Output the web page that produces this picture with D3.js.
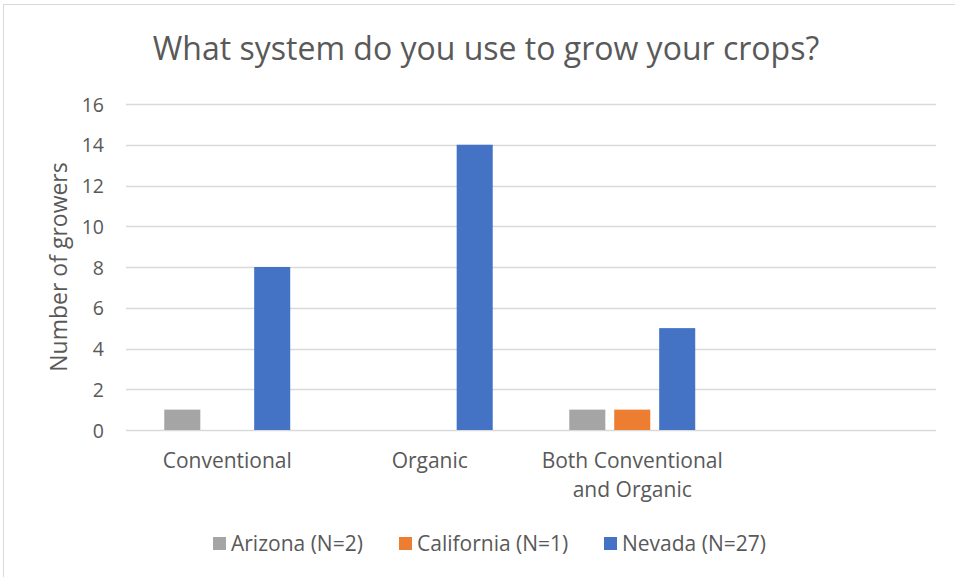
<!DOCTYPE html>
<html>
<head>
<meta charset="utf-8">
<script src="https://cdn.jsdelivr.net/npm/d3@7"></script>
<style>
  html, body { margin: 0; padding: 0; background: #fff; }
  svg { display: block; font-family: "Open Sans", "Liberation Sans", sans-serif; }
</style>
</head>
<body>
<svg id="chart" width="955" height="577"></svg>
<script>
// Survey responses: growing system by state
const categories = ["Conventional", "Organic", "Both Conventional and Organic", ""];
const seriesNames = ["Arizona (N=2)", "California (N=1)", "Nevada (N=27)"];
const arizona = [1, 0, 1, null];
const california = [0, 0, 1, null];
const nevada = [8, 14, 5, null];
const yTicks = [0, 2, 4, 6, 8, 10, 12, 14, 16];
const colors = ["#a5a5a5", "#ed7d31", "#4472c4"];

const series = [arizona, california, nevada];

const svg = d3.select("#chart");
const W = 955, H = 577;
const plot = { left: 126, right: 936, top: 104, bottom: 430 };

// Chart frame
svg.append("rect")
  .attr("x", 3.5).attr("y", 4.5)
  .attr("width", W + 10).attr("height", H + 10)
  .attr("fill", "#fff").attr("stroke", "#d9d9d9").attr("stroke-width", 1);

// Title
svg.append("text")
  .attr("x", 486).attr("y", 60)
  .attr("text-anchor", "middle")
  .attr("font-size", 32)
  .attr("fill", "#595959")
  .text("What system do you use to grow your crops?");

const x = d3.scaleBand().domain(d3.range(categories.length))
  .range([plot.left, plot.right]).paddingInner(0).paddingOuter(0);
const y = d3.scaleLinear().domain([0, 16]).range([plot.bottom, plot.top]);

// Gridlines
svg.append("g")
  .selectAll("line").data(yTicks).join("line")
  .attr("x1", plot.left).attr("x2", plot.right)
  .attr("y1", d => Math.round(y(d)) + 0.5).attr("y2", d => Math.round(y(d)) + 0.5)
  .attr("stroke", "#d9d9d9").attr("stroke-width", 1.3);

// Y axis labels
const yAxis = d3.axisLeft(y).tickValues(yTicks).tickSize(0).tickPadding(0);
const gy = svg.append("g").attr("transform", `translate(${plot.left - 22},0)`).call(yAxis);
gy.select(".domain").remove();
gy.selectAll("text").attr("font-size", 19.5).attr("fill", "#595959")
  .attr("font-family", "'Open Sans', sans-serif").attr("dy", "0.36em");

// Y axis title
svg.append("text")
  .attr("transform", `translate(67, ${(plot.top + plot.bottom) / 2}) rotate(-90)`)
  .attr("text-anchor", "middle")
  .attr("font-size", 23)
  .attr("fill", "#595959")
  .text("Number of growers");

// Bars
const bw = x.bandwidth();
const barW = bw * 0.178;
const step = bw * 0.222;
const groupW = step * (series.length - 1) + barW;
series.forEach((vals, si) => {
  svg.append("g")
    .selectAll("rect")
    .data(vals.map((v, i) => ({ v, i })).filter(d => d.v != null && d.v > 0))
    .join("rect")
    .attr("x", d => x(d.i) + (bw - groupW) / 2 + si * step)
    .attr("width", barW)
    .attr("y", d => y(d.v))
    .attr("height", d => y(0) - y(d.v))
    .attr("fill", colors[si]);
});

// Category labels (wrapped)
const wrapWidth = 195;
const catG = svg.append("g");
categories.forEach((c, i) => {
  const cx = x(i) + bw / 2;
  const t = catG.append("text")
    .attr("x", cx).attr("y", 468)
    .attr("text-anchor", "middle")
    .attr("font-size", 21)
    .attr("fill", "#595959");
  const words = c.split(" ");
  let line = [];
  let tspan = t.append("tspan").attr("x", cx).attr("dy", 0);
  words.forEach(w => {
    line.push(w);
    tspan.text(line.join(" "));
    if (tspan.node().getComputedTextLength() > wrapWidth && line.length > 1) {
      line.pop();
      tspan.text(line.join(" "));
      line = [w];
      tspan = t.append("tspan").attr("x", cx).attr("dy", 29).text(w);
    }
  });
});

// Legend
const legendX = [213, 399, 604];
const lg = svg.append("g");
seriesNames.forEach((n, i) => {
  lg.append("rect").attr("x", legendX[i]).attr("y", 537).attr("width", 13).attr("height", 13)
    .attr("fill", colors[i]);
  lg.append("text").attr("x", legendX[i] + 18).attr("y", 551)
    .attr("font-size", 21).attr("fill", "#595959").text(n);
});
</script>
</body>
</html>
